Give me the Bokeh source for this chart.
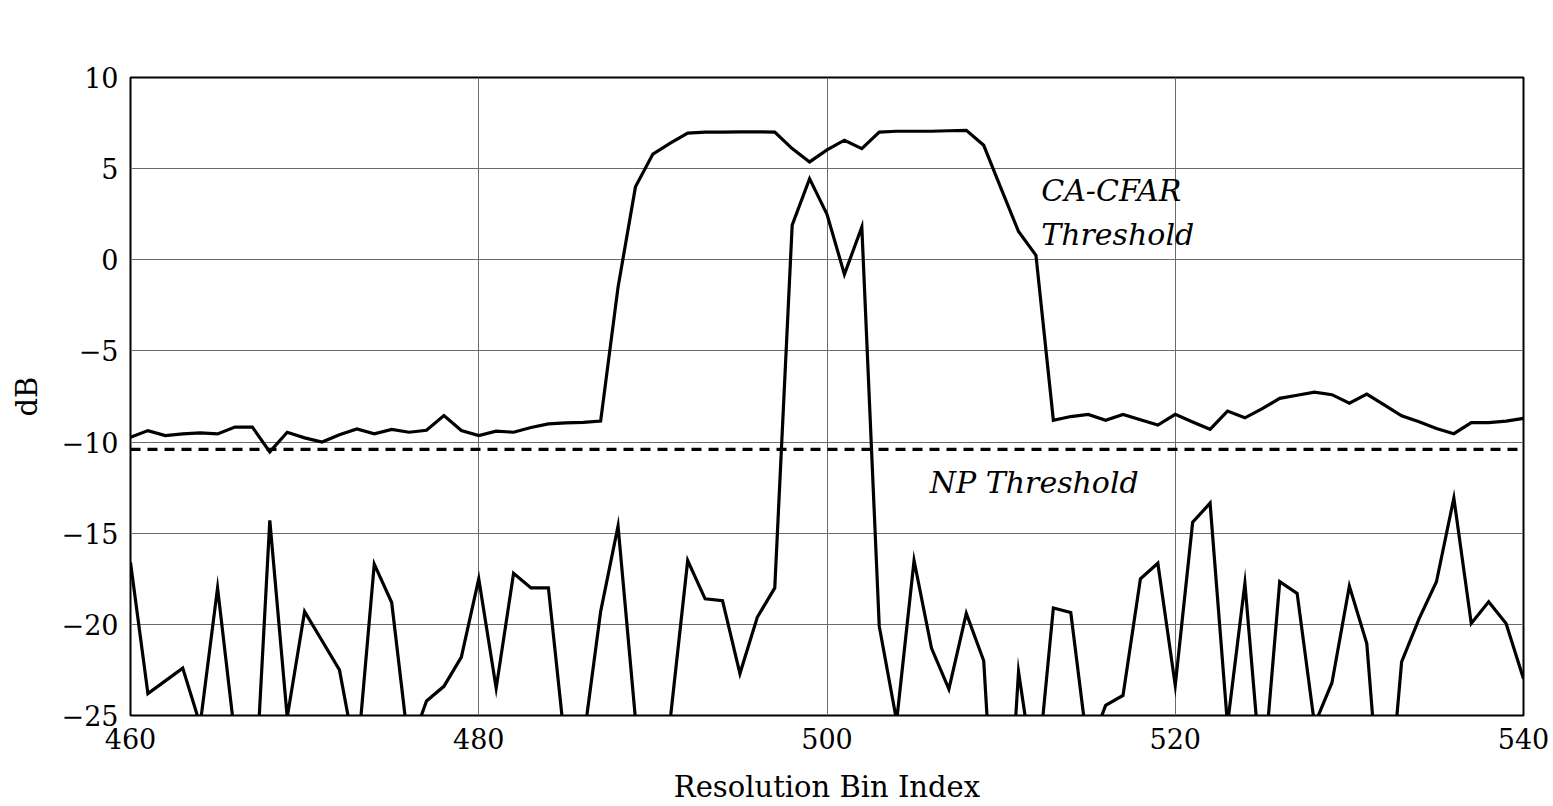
from bokeh.plotting import figure
from bokeh.models import Range1d, FixedTicker, Label
from bokeh.embed import file_html
from bokeh.resources import INLINE

# ---- data ----
bins = list(range(460, 541))

signal_db = [
    -16.6, -23.8, -23.1, -22.4, -25.5, -18.0, -26.2, -32.0, -14.3, -25.1,   # 460-469
    -19.3, -20.9, -22.5, -27.6, -16.7, -18.8, -26.9, -24.2, -23.4, -21.8,   # 470-479
    -17.5, -23.5, -17.2, -18.0, -18.0, -27.0, -26.5, -19.3, -14.6, -25.2,   # 480-489
    -30.0, -25.2, -16.5, -18.6, -18.7, -22.7, -19.6, -18.0, 1.9, 4.45,      # 490-499
    2.5, -0.8, 1.8, -20.1, -25.3, -16.5, -21.3, -23.55, -19.4, -22.0,       # 500-509
    -38.0, -22.6, -29.0, -19.1, -19.35, -27.0, -24.45, -23.9, -17.5, -16.65,  # 510-519
    -23.35, -14.4, -13.35, -25.5, -17.75, -29.0, -17.66, -18.3, -25.5, -23.2,  # 520-529
    -17.9, -21.05, -33.0, -22.06, -19.7, -17.66, -13.07, -19.95, -18.76, -19.95,  # 530-539
    -22.98,                                                                   # 540
]

cfar_db = [
    -9.73, -9.37, -9.64, -9.55, -9.5, -9.55, -9.18, -9.18, -10.54, -9.46,   # 460-469
    -9.77, -10.0, -9.6, -9.28, -9.55, -9.31, -9.46, -9.35, -8.55, -9.37,    # 470-479
    -9.64, -9.4, -9.46, -9.2, -9.0, -8.95, -8.92, -8.85, -1.5, 4.0,         # 480-489
    5.8, 6.4, 6.95, 7.0, 7.0, 7.02, 7.02, 7.0, 6.1, 5.37,                   # 490-499
    6.03, 6.56, 6.1, 7.0, 7.05, 7.05, 7.05, 7.08, 7.1, 6.28,                # 500-509
    3.9, 1.55, 0.25, -8.8, -8.6, -8.48, -8.8, -8.48, -8.78, -9.07,          # 510-519
    -8.48, -8.9, -9.3, -8.3, -8.67, -8.17, -7.6, -7.43, -7.26, -7.4,        # 520-529
    -7.87, -7.37, -7.96, -8.56, -8.89, -9.26, -9.54, -8.93, -8.93, -8.85,   # 530-539
    -8.7,                                                                   # 540
]

np_threshold_db = -10.4

x_ticks = [460, 480, 500, 520, 540]
x_tick_labels = ["460", "480", "500", "520", "540"]
y_ticks = [10, 5, 0, -5, -10, -15, -20, -25]
y_tick_labels = ["10", "5", "0", "\u22125", "\u221210", "\u221215", "\u221220", "\u221225"]

x_label = "Resolution Bin Index"
y_label = "dB"
cfar_label_1 = "CA-CFAR"
cfar_label_2 = "Threshold"
np_label = "NP Threshold"

FONT = "DejaVu Serif"

p = figure(
    width=1553, height=806,
    output_backend="svg", toolbar_location=None,
    x_range=Range1d(460, 540), y_range=Range1d(-25, 10),
    min_border_left=130, min_border_right=30,
    min_border_top=77, min_border_bottom=90,
    background_fill_color="white", border_fill_color="white",
)

p.outline_line_color = "black"
p.outline_line_width = 2

# axes
p.xaxis.ticker = FixedTicker(ticks=x_ticks)
p.yaxis.ticker = FixedTicker(ticks=y_ticks)
p.xaxis.major_label_overrides = dict(zip(x_ticks, x_tick_labels))
p.yaxis.major_label_overrides = dict(zip(y_ticks, y_tick_labels))
for ax in (p.xaxis, p.yaxis):
    ax.major_tick_in = 0
    ax.major_tick_out = 0
    ax.minor_tick_in = 0
    ax.minor_tick_out = 0
    ax.axis_line_color = None
    ax.major_label_text_font = FONT
    ax.major_label_text_font_size = "27px"
    ax.major_label_text_color = "black"
    ax.axis_label_text_font = FONT
    ax.axis_label_text_font_style = "normal"
    ax.axis_label_text_font_size = "29px"
    ax.axis_label_text_color = "black"
    ax.major_label_standoff = 12

p.xaxis.axis_label = x_label
p.yaxis.axis_label = y_label
p.xaxis.axis_label_standoff = 18
p.yaxis.axis_label_standoff = 15

# grid
p.xgrid.ticker = FixedTicker(ticks=x_ticks)
p.ygrid.ticker = FixedTicker(ticks=y_ticks)
for g in (p.xgrid, p.ygrid):
    g.grid_line_color = "#6a6a6a"
    g.grid_line_width = 1

# lines
p.line(bins, cfar_db, line_color="black", line_width=3.2, line_join="miter")
p.line(bins, signal_db, line_color="black", line_width=3.2, line_join="miter")
p.line([bins[0], bins[-1]], [np_threshold_db, np_threshold_db],
       line_color="black", line_width=3.2, line_dash="10 7")

# annotations
for txt, xx, yy in ((cfar_label_1, 512.3, 3.8), (cfar_label_2, 512.3, 1.4), (np_label, 505.9, -12.2)):
    p.add_layout(Label(x=xx, y=yy, text=txt, text_font=FONT, text_font_style="italic",
                       text_font_size="30px", text_color="black",
                       text_align="left", text_baseline="alphabetic"))

open("out.html", "w").write(file_html(p, INLINE))
